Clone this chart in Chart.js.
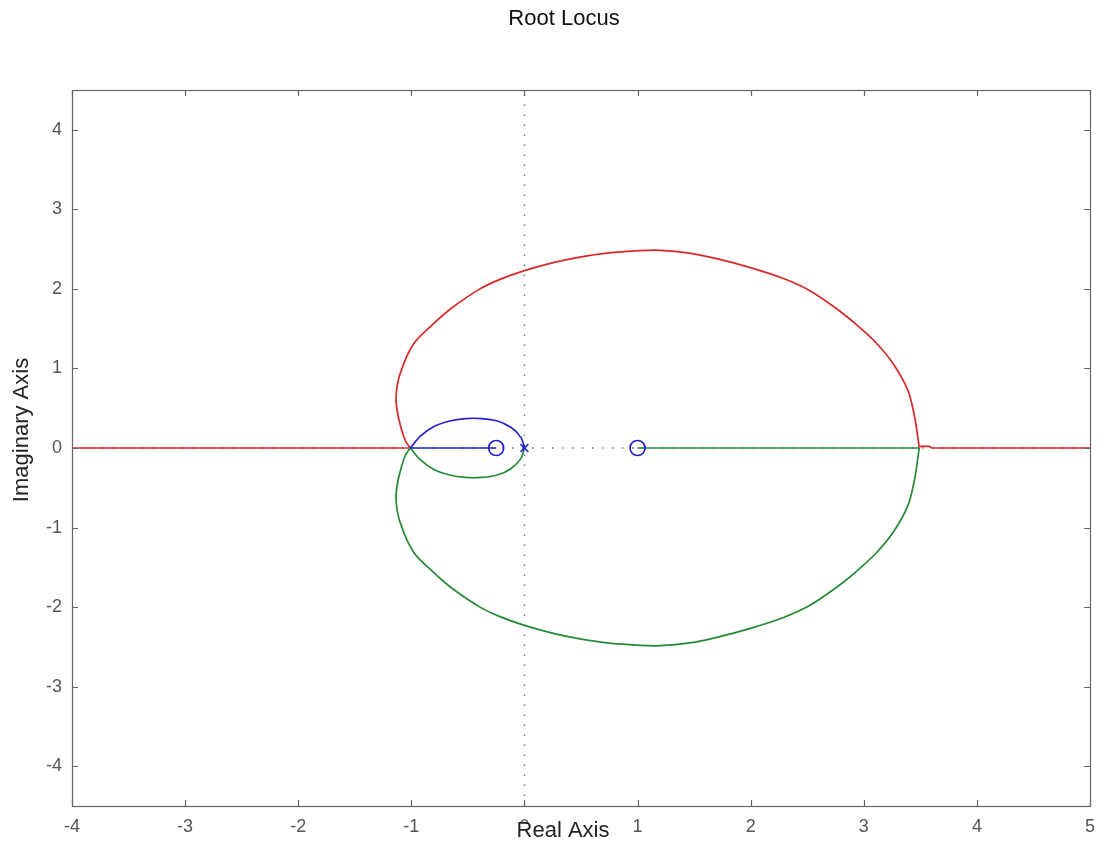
<!DOCTYPE html>
<html>
<head>
<meta charset="utf-8">
<title>Root Locus</title>
<script src="https://cdn.jsdelivr.net/npm/chart.js@4"></script>
<style>
  html, body { margin: 0; padding: 0; background: #fff; }
  #wrap { width: 1108px; height: 844px; }
</style>
</head>
<body>
<div id="wrap"><canvas id="locus" width="1108" height="844"></canvas></div>
<script>
// red branch: real axis from the left, upper big loop, then out to the right
const redAxisRe = [-4, -1.01];
const redAxisIm = [0, 0];
const redLoopRe = [-1.01, -1.056, -1.115, -1.135, -1.10, -0.98, -0.806, -0.643, -0.393, -0.216, 0.0, 0.255, 0.49, 0.73, 1.02, 1.20, 1.46, 1.70, 1.99, 2.29, 2.52, 2.76, 2.935, 3.11, 3.26, 3.39, 3.45, 3.49];
const redLoopIm = [0, 0.10, 0.39, 0.64, 0.93, 1.31, 1.56, 1.76, 2.00, 2.12, 2.23, 2.33, 2.40, 2.45, 2.48, 2.485, 2.45, 2.38, 2.27, 2.13, 1.98, 1.75, 1.55, 1.32, 1.06, 0.725, 0.39, 0.01];
const redTailRe = [3.49, 3.50, 3.58, 3.60, 5];
const redTailIm = [0.01, 0.02, 0.02, 0, 0];

// green branch: lower small loop, lower big loop, back along the axis to the zero at 1
const greenSmallRe = [0, -0.03, -0.12, -0.24, -0.38, -0.52, -0.66, -0.80, -0.92, -1.01];
const greenSmallIm = [0, -0.13, -0.26, -0.34, -0.37, -0.37, -0.34, -0.27, -0.15, 0];
const greenLoopRe = [-1.01, -1.056, -1.115, -1.135, -1.10, -0.98, -0.806, -0.643, -0.393, -0.216, 0.0, 0.255, 0.49, 0.73, 1.02, 1.20, 1.46, 1.70, 1.99, 2.29, 2.52, 2.76, 2.935, 3.11, 3.26, 3.39, 3.45, 3.49];
const greenLoopIm = [0, -0.10, -0.39, -0.64, -0.93, -1.31, -1.56, -1.76, -2.00, -2.12, -2.23, -2.33, -2.40, -2.45, -2.48, -2.485, -2.45, -2.38, -2.27, -2.13, -1.98, -1.75, -1.55, -1.32, -1.06, -0.725, -0.39, 0];
const greenAxisRe = [3.49, 1];
const greenAxisIm = [0, 0];

// blue branch: upper small loop, then along the axis to the zero at -0.25
const blueLoopRe = [0, -0.03, -0.12, -0.24, -0.38, -0.52, -0.66, -0.80, -0.92, -1.01];
const blueLoopIm = [0, 0.13, 0.26, 0.34, 0.37, 0.37, 0.34, 0.27, 0.15, 0];
const blueAxisRe = [-1.01, -0.25];
const blueAxisIm = [0, 0];

// open-loop poles and zeros
const polesRe = [0];
const polesIm = [0];
const zerosRe = [-0.25, 1];
const zerosIm = [0, 0];

const xTicks = [-4, -3, -2, -1, 0, 1, 2, 3, 4, 5];
const yTicks = [-4, -3, -2, -1, 0, 1, 2, 3, 4];

function pts(re, im) {
    return re.map(function (v, i) { return { x: v, y: im[i] }; });
}

const axisGray = '#666';
const labelFont = '"Liberation Sans", Arial, sans-serif';
const RED = '#d82828', GREEN = '#238a35', BLUE = '#2323d0';

// box, inward ticks and the text labels
const frame = {
    id: 'frame',
    afterDraw: function (chart) {
        const ctx = chart.ctx;
        const a = chart.chartArea;
        const xs = chart.scales.x, ys = chart.scales.y;
        ctx.save();
        ctx.strokeStyle = axisGray;
        ctx.lineWidth = 1.2;
        ctx.strokeRect(Math.round(a.left) + 0.5, Math.round(a.top) + 0.5,
            Math.round(a.right - a.left), Math.round(a.bottom - a.top));
        ctx.beginPath();
        xTicks.forEach(function (v) {
            const px = Math.round(xs.getPixelForValue(v)) + 0.5;
            ctx.moveTo(px, a.bottom); ctx.lineTo(px, a.bottom - 6);
            ctx.moveTo(px, a.top); ctx.lineTo(px, a.top + 6);
        });
        yTicks.forEach(function (v) {
            const py = Math.round(ys.getPixelForValue(v)) + 0.5;
            ctx.moveTo(a.left, py); ctx.lineTo(a.left + 6, py);
            ctx.moveTo(a.right, py); ctx.lineTo(a.right - 6, py);
        });
        ctx.stroke();

        ctx.font = '22px ' + labelFont;
        ctx.textAlign = 'center';
        ctx.textBaseline = 'middle';
        ctx.fillStyle = '#111';
        ctx.fillText('Root Locus', 564, 19);

        const w = ctx.measureText('Real Axis').width;
        ctx.fillStyle = '#fff';
        ctx.fillRect(563 - w / 2 - 2, 823, w + 4, 20);
        ctx.fillStyle = '#222';
        ctx.fillText('Real Axis', 563, 831);

        ctx.translate(22, 430);
        ctx.rotate(-Math.PI / 2);
        ctx.fillText('Imaginary Axis', 0, 0);
        ctx.restore();
    }
};

function trace(re, im, color, smooth) {
    return {
        data: pts(re, im),
        showLine: true,
        borderColor: color,
        borderWidth: 1.7,
        pointRadius: 0,
        tension: smooth ? 0.3 : 0,
        fill: false,
        order: 2
    };
}

function dotted(data) {
    return {
        data: data,
        showLine: true,
        borderColor: '#707070',
        borderWidth: 1.4,
        borderDash: [1.5, 8.5],
        pointRadius: 0,
        order: 9
    };
}

new Chart(document.getElementById('locus'), {
    type: 'scatter',
    data: {
        datasets: [
            {
                data: pts(polesRe, polesIm),
                pointStyle: 'crossRot',
                pointRadius: 5.5,
                borderColor: '#2222cc',
                borderWidth: 1.5,
                order: 0
            },
            {
                data: pts(zerosRe, zerosIm),
                pointStyle: 'circle',
                pointRadius: 7.5,
                borderColor: '#2222cc',
                backgroundColor: 'rgba(0,0,0,0)',
                borderWidth: 1.7,
                order: 0
            },
            trace(blueLoopRe, blueLoopIm, BLUE, true),
            trace(blueAxisRe, blueAxisIm, BLUE, false),
            trace(greenSmallRe, greenSmallIm, GREEN, true),
            trace(greenLoopRe, greenLoopIm, GREEN, true),
            trace(greenAxisRe, greenAxisIm, GREEN, false),
            trace(redAxisRe, redAxisIm, RED, false),
            trace(redLoopRe, redLoopIm, RED, true),
            trace(redTailRe, redTailIm, RED, false),
            // dotted axis lines through the origin
            dotted([{ x: 0, y: -4.5 }, { x: 0, y: 4.5 }]),
            dotted([{ x: -4, y: 0 }, { x: 5, y: 0 }])
        ]
    },
    options: {
        responsive: false,
        animation: false,
        layout: { padding: { top: 90, right: 18, left: 0, bottom: 0 } },
        plugins: { legend: { display: false }, tooltip: { enabled: false } },
        scales: {
            x: {
                type: 'linear',
                min: -4,
                max: 5,
                afterBuildTicks: function (s) { s.ticks = xTicks.map(function (v) { return { value: v }; }); },
                afterFit: function (s) { s.height = 38; },
                grid: { display: false, drawTicks: false },
                border: { display: false },
                ticks: {
                    padding: 10,
                    color: '#555',
                    maxRotation: 0,
                    font: { family: labelFont, size: 18 }
                }
            },
            y: {
                type: 'linear',
                min: -4.5,
                max: 4.5,
                afterBuildTicks: function (s) { s.ticks = yTicks.map(function (v) { return { value: v }; }); },
                afterFit: function (s) { s.width = 72; },
                grid: { display: false, drawTicks: false },
                border: { display: false },
                ticks: {
                    padding: 10,
                    color: '#555',
                    font: { family: labelFont, size: 18 }
                }
            }
        }
    },
    plugins: [frame]
});
</script>
</body>
</html>
